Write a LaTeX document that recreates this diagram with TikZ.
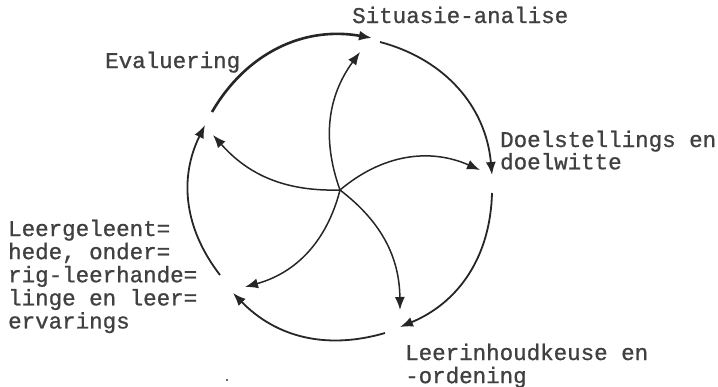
\documentclass[tikz,border=0pt]{standalone}
\usepackage{fontspec}
\newfontfamily\dotfont[FakeBold=0.9]{Liberation Mono}
\usetikzlibrary{arrows.meta}
\begin{document}
\begin{tikzpicture}[x=1pt,y=-1pt,
  lbl/.style={inner sep=0pt, anchor=base west, text=black!75, font=\dotfont\fontsize{22.5}{22.7}\selectfont},
  tip/.style={-{Latex[length=13pt,width=10pt]}},
  cyc/.style={tip, line width=1.8pt, draw=black!85},
  spoke/.style={tip, line width=1.5pt, draw=black!85, bend left=28}]
\useasboundingbox (0,0) rectangle (718,386);
% centre of the pinwheel
\coordinate (c) at (340,190);
% points of the cycle
\coordinate (evOut) at (212,112);
\coordinate (sitIn) at (372,38);
\coordinate (sitOut) at (380,42);
\coordinate (doIn) at (492,175);
\coordinate (doOut) at (492,193);
\coordinate (liIn) at (400,327);
\coordinate (liOut) at (385,333);
\coordinate (lgIn) at (233,293);
\coordinate (lgOut) at (220,275);
\coordinate (evIn) at (205,125);
% spoke ends
\coordinate (sitS) at (360,52);
\coordinate (doS) at (480,170);
\coordinate (liS) at (400,310);
\coordinate (lgS) at (245,287);
\coordinate (evS) at (213,135);
% labels
\node[lbl] (sit) at (352,23) {Situasie-analise};
\node[lbl] (eval) at (105,68) {Evaluering};
\node[lbl] (doel) at (500,147) {\fontsize{22.5}{20}\selectfont\begin{tabular}[t]{@{}l@{}}Doelstellings en\\doelwitte\end{tabular}};
\node[lbl] (leerin) at (405,360) {\begin{tabular}[t]{@{}l@{}}Leerinhoudkeuse en\\-ordening\end{tabular}};
\node[lbl] (leerg) at (8,236) {\begin{tabular}[t]{@{}l@{}}Leergeleent=\\hede, onder=\\rig-leerhande=\\linge en leer=\\ervarings\end{tabular}};
% outer cycle
\draw[cyc, line width=2.6pt] (evOut) to[bend left=35] (sitIn);
\draw[cyc] (sitOut) to[bend left=35] (doIn);
\draw[cyc] (doOut) to[bend left=33] (liIn);
\draw[cyc] (liOut) to[bend left=31] (lgIn);
\draw[cyc] (lgOut) to[bend left=32] (evIn);
% spokes
\draw[spoke] (c) to (sitS);
\draw[spoke, bend left=32] (c) to (doS);
\draw[spoke, bend left=26] (c) to (liS);
\draw[spoke, bend left=30] (c) to (lgS);
\draw[spoke, bend left=25] (c) to (evS);
% stray speck
\fill[black!80] (227,380) circle (1.2pt);
\end{tikzpicture}
\end{document}
